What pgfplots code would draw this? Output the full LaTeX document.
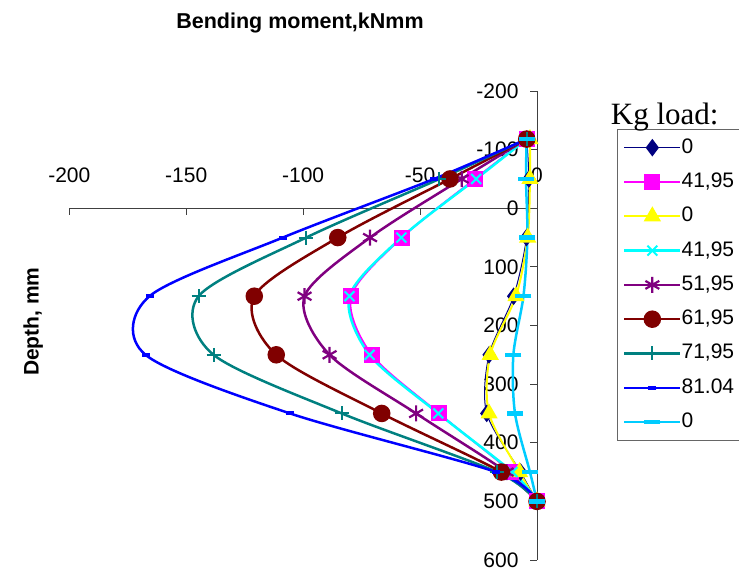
\documentclass[border=0pt]{standalone}
\usepackage{fontspec}
\setmainfont{Liberation Sans}
\newfontfamily\timesfont{Liberation Serif}
\usepackage{pgfplots}
\pgfplotsset{compat=1.18}
\definecolor{cnavy}{HTML}{000080}
\definecolor{cmag}{HTML}{FF00FF}
\definecolor{cyel}{HTML}{FFFF00}
\definecolor{ccyan}{HTML}{00FFFF}
\definecolor{cpurp}{HTML}{800080}
\definecolor{cbrown}{HTML}{800000}
\definecolor{cteal}{HTML}{008080}
\definecolor{cblue}{HTML}{0000FF}
\definecolor{csky}{HTML}{00CCFF}
\begin{document}
\begin{tikzpicture}
\useasboundingbox (0,0) rectangle (739pt,571pt);
\begin{axis}[
  at={(69.3pt,11pt)}, anchor=south west,
  scale only axis, width=467.7pt, height=469pt,
  axis lines=middle, axis line style={-, black!75, line width=0.8pt},
  xmin=-200, xmax=0, ymin=-200, ymax=600, y dir=reverse,
  xtick={-200,-150,-100,-50,0}, ytick={-200,-100,0,100,200,300,400,500,600},
  hide obscured x ticks=false, hide obscured y ticks=false,
  tick style={black!75, line width=0.8pt}, major tick length=7pt,
  xtick align=inside, ytick align=outside,
  tick label style={font=\fontsize{21}{21}\selectfont},
  xticklabel style={yshift=43.5pt},
  yticklabel style={xshift=-8pt},
  /pgf/number format/assume math mode=true,
  clip=false,
  legend style={at={(1.1704,0.919)}, anchor=north west, draw=black!60, line width=0.8pt,
    fill=white, font=\fontsize{21}{21}\selectfont, inner xsep=6pt, inner ysep=8.8pt,
    row sep=15.3pt, nodes={inner sep=0pt, text height=15pt, text depth=4pt, anchor=west},
    /tikz/column 2/.style={column sep=4pt}},
  legend cell align=left,
  legend image code/.code={\draw[mark repeat=2,mark phase=2,#1] plot coordinates {(0pt,0pt)(28pt,0pt)(56pt,0pt)};},
  every axis plot/.append style={smooth},
]
\addplot[cnavy, line width=1pt, mark=diamond*, mark size=8pt, mark options={solid, fill=cnavy}] coordinates {
(-4.4,-118) (-3.5,-50) (-4.5,50) (-10,150) (-20.5,250) (-21.5,350) (-7,450) (0,500)};
\addlegendentry{0}
\addplot[cmag, line width=2pt, mark=square*, mark size=7pt, mark options={solid, fill=cmag}] coordinates {
(-4.4,-118) (-26.5,-50) (-57.8,50) (-79.5,150) (-70.7,250) (-41.9,350) (-11,450) (0,500)};
\addlegendentry{41,95}
\addplot[cyel, line width=2pt, mark=triangle*, mark size=8pt, mark options={solid, fill=cyel}] coordinates {
(-3,-118) (-3,-50) (-4,50) (-9,150) (-20,250) (-20.5,350) (-7.5,450) (0,500)};
\addlegendentry{0}
\addplot[ccyan, line width=2.5pt, mark=x, mark size=7pt, mark options={solid, line width=2pt}] coordinates {
(-4.4,-118) (-26,-50) (-58,50) (-80.2,150) (-71.6,250) (-42.2,350) (-10.5,450) (0,500)};
\addlegendentry{41,95}
\addplot[cpurp, line width=2.5pt, mark=asterisk, mark size=8pt, mark options={solid, line width=2.2pt}] coordinates {
(-4.4,-118) (-32.2,-50) (-71.4,50) (-99.4,150) (-88.7,250) (-51.7,350) (-13,450) (0,500)};
\addlegendentry{51,95}
\addplot[cbrown, line width=2.5pt, mark=*, mark size=7.5pt, mark options={solid, fill=cbrown}] coordinates {
(-4.4,-118) (-37.2,-50) (-85.2,50) (-120.9,150) (-111.5,250) (-66.4,350) (-15.2,450) (0,500)};
\addlegendentry{61,95}
\addplot[cteal, line width=2.5pt, mark=+, mark size=7pt, mark options={solid, line width=2pt}] coordinates {
(-4.4,-118) (-41.7,-50) (-98.7,50) (-144.7,150) (-138.3,250) (-83.5,350) (-17,450) (0,500)};
\addlegendentry{71,95}
\addplot[cblue, line width=2.5pt, mark=-, mark size=4pt, mark options={solid, line width=4pt}] coordinates {
(-4.4,-118) (-44,-50) (-108.7,50) (-165.7,150) (-167.4,250) (-105.6,350) (-17.5,450) (0,500)};
\addlegendentry{81.04}
\addplot[csky, line width=2.5pt, mark=-, mark size=8pt, mark options={solid, line width=4.5pt}] coordinates {
(-4.4,-118) (-4.7,-50) (-4.1,50) (-5.8,150) (-10.1,250) (-9.4,350) (-3,450) (0,500)};
\addlegendentry{0}
\end{axis}
\node[font=\bfseries\fontsize{21.5}{21.5}\selectfont] at (300pt,548.3pt) {Bending moment,kNmm};
\node[rotate=90, font=\bfseries\fontsize{21}{21}\selectfont] at (33.3pt,249.3pt) {Depth, mm};
\node[anchor=base west, inner sep=0pt, font=\timesfont\fontsize{31}{31}\selectfont] at (610.7pt,446pt) {Kg load:};
\end{tikzpicture}
\end{document}
